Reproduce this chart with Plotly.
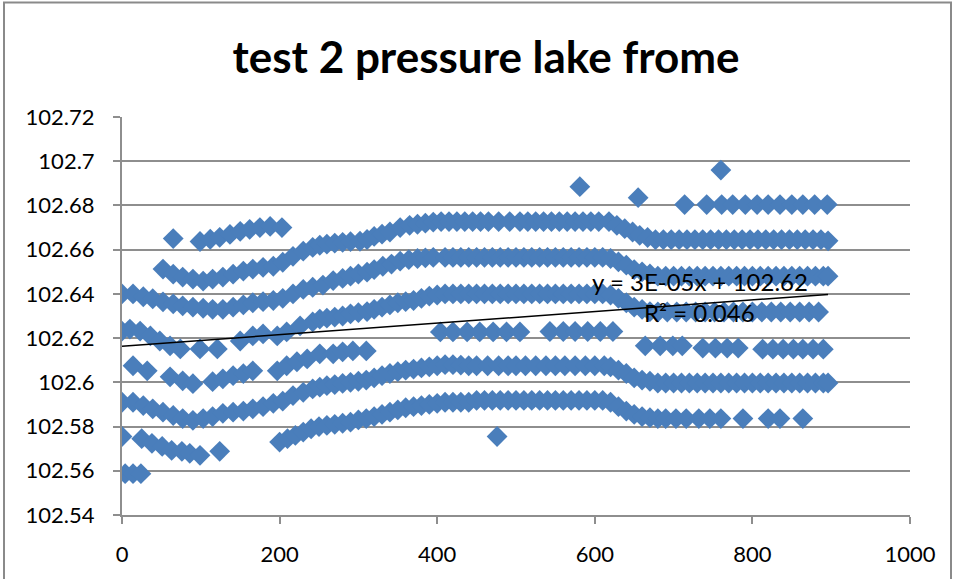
import plotly.graph_objects as go

# ---------------- data ----------------
band8_x = [4, 14, 24]
band8_y = [102.5587, 102.5587, 102.5587]

band7a_x = [0, 25, 38, 51, 63, 76, 86, 99, 124]
band7a_y = [102.5755, 102.5745, 102.5724, 102.5710, 102.5692, 102.5688, 102.5679, 102.5670, 102.5688]

band7_x = [200, 210, 220, 230, 240, 250, 260, 270, 280, 290, 300, 310, 320, 330, 340, 350, 360, 370, 380, 390,
           400, 410, 420, 430, 440, 450, 460, 470, 480, 490, 500, 510, 520, 530, 540, 550, 560, 570, 580, 590,
           600, 610, 620, 630, 640, 650, 660, 670, 680, 690, 703, 716, 732, 746, 760, 788, 820, 835, 864]
band7_y = [102.5730, 102.5745, 102.5760, 102.5775, 102.5790, 102.5800, 102.5805, 102.5810, 102.5815, 102.5820,
           102.5830, 102.5836, 102.5845, 102.5855, 102.5865, 102.5875, 102.5885, 102.5890, 102.5895, 102.5900,
           102.5905, 102.5910, 102.5910, 102.5910, 102.5910, 102.5918, 102.5918, 102.5918, 102.5918, 102.5918,
           102.5918, 102.5918, 102.5918, 102.5918, 102.5918, 102.5918, 102.5918, 102.5918, 102.5918, 102.5918,
           102.5918, 102.5918, 102.5910, 102.5890, 102.5870, 102.5855, 102.5845, 102.5840, 102.5836, 102.5836,
           102.5836, 102.5836, 102.5836, 102.5836, 102.5836, 102.5836, 102.5836, 102.5836, 102.5836]

lone_low_x = [476]
lone_low_y = [102.5755]

band6_x = [0, 14, 27, 39, 52, 65, 77, 90, 103, 115, 128, 141, 154, 166, 179, 192, 204, 217, 230, 242,
           251, 260, 270, 280, 290, 300, 310, 320, 330, 340, 350, 360, 370, 380, 390, 400, 410, 420, 430, 440,
           450, 464, 478, 490, 500, 512, 525, 538, 550, 562, 575, 588, 600, 612, 620, 630, 640, 650, 660, 670,
           680, 690, 700, 710, 720, 730, 740, 750, 760, 770, 780, 790, 800, 810, 820, 830, 840, 850, 860, 870,
           880, 890, 896]
band6_y = [102.5910, 102.5910, 102.5895, 102.5880, 102.5865, 102.5850, 102.5836, 102.5828, 102.5836, 102.5845,
           102.5860, 102.5865, 102.5870, 102.5880, 102.5890, 102.5905, 102.5915, 102.5940, 102.5955, 102.5970,
           102.5978, 102.5985, 102.5990, 102.5995, 102.6000, 102.6005, 102.6010, 102.6020, 102.6030, 102.6040,
           102.6048, 102.6055, 102.6060, 102.6065, 102.6070, 102.6075, 102.6080, 102.6080, 102.6078, 102.6075,
           102.6075, 102.6075, 102.6075, 102.6075, 102.6075, 102.6075, 102.6075, 102.6075, 102.6075, 102.6075,
           102.6075, 102.6075, 102.6075, 102.6075, 102.6070, 102.6055, 102.6040, 102.6020, 102.6010, 102.6005,
           102.5997, 102.5997, 102.5997, 102.5997, 102.5997, 102.5997, 102.5997, 102.5997, 102.5997, 102.5997,
           102.5997, 102.5997, 102.5997, 102.5997, 102.5997, 102.5997, 102.5997, 102.5997, 102.5997, 102.5997,
           102.5997, 102.5997, 102.5997]

band5_x = [14, 32, 61, 77, 90, 115, 128, 141, 154, 166, 197, 209, 222, 235, 251, 268, 280, 293, 310,
           404, 420, 438, 454, 471, 488, 505, 543, 560, 575, 591, 607, 623,
           664, 683, 699, 711, 737, 753, 768, 782, 813, 826, 839, 852, 864, 877, 890]
band5_y = [102.6075, 102.6052, 102.6025, 102.6007, 102.5994, 102.6003, 102.6016, 102.6030, 102.6039, 102.6052,
           102.6052, 102.6075, 102.6093, 102.6106, 102.6129, 102.6129, 102.6138, 102.6142, 102.6142,
           102.6228, 102.6228, 102.6228, 102.6228, 102.6228, 102.6228, 102.6228,
           102.6230, 102.6230, 102.6230, 102.6230, 102.6230, 102.6230,
           102.6165, 102.6165, 102.6165, 102.6165, 102.6155, 102.6155, 102.6155, 102.6155,
           102.6150, 102.6150, 102.6150, 102.6150, 102.6150, 102.6150, 102.6150]

band4_x = [0, 10, 23, 36, 48, 61, 74, 99, 121, 150, 166, 179, 197, 209, 226, 242, 251, 260, 270, 280,
           290, 300, 311, 320, 330, 340, 350, 360, 370, 380, 390, 400, 410, 420, 430, 440, 450, 460, 470, 480,
           490, 500, 510, 520, 530, 540, 550, 560, 570, 580, 590, 600, 610, 620, 630, 640, 650, 660, 670, 680,
           692, 704, 716, 728, 740, 752, 764, 776, 788, 800, 812, 824, 836, 848, 860, 872, 884]
band4_y = [102.6232, 102.6241, 102.6232, 102.6210, 102.6187, 102.6165, 102.6151, 102.6151, 102.6151, 102.6187,
           102.6210, 102.6219, 102.6210, 102.6228, 102.6255, 102.6273, 102.6286, 102.6290, 102.6295, 102.6300,
           102.6310, 102.6315, 102.6320, 102.6330, 102.6340, 102.6350, 102.6360, 102.6365, 102.6370, 102.6380,
           102.6390, 102.6395, 102.6400, 102.6400, 102.6400, 102.6400, 102.6400, 102.6400, 102.6400, 102.6400,
           102.6400, 102.6400, 102.6400, 102.6400, 102.6400, 102.6400, 102.6400, 102.6400, 102.6400, 102.6400,
           102.6400, 102.6400, 102.6400, 102.6395, 102.6380, 102.6360, 102.6340, 102.6330, 102.6320, 102.6318,
           102.6318, 102.6318, 102.6318, 102.6318, 102.6318, 102.6318, 102.6318, 102.6318, 102.6318, 102.6318,
           102.6318, 102.6318, 102.6318, 102.6318, 102.6318, 102.6318, 102.6318]

band3_x = [0, 14, 27, 39, 52, 65, 77, 90, 103, 115, 128, 141, 154, 166, 179, 192, 204, 217, 230, 242,
           255, 268, 280, 290, 300, 311, 320, 331, 342, 353, 364, 375, 385, 395, 410, 420, 430, 440, 450, 460,
           470, 480, 490, 500, 510, 520, 530, 540, 550, 560, 570, 580, 590, 600, 610, 620, 630, 640, 650, 660,
           670, 680, 690, 700, 710, 720, 730, 740, 750, 760, 770, 780, 790, 800, 810, 820, 830, 840, 850, 860,
           870, 880, 890, 896]
band3_y = [102.6400, 102.6400, 102.6387, 102.6378, 102.6364, 102.6355, 102.6346, 102.6340, 102.6335, 102.6330,
           102.6330, 102.6340, 102.6350, 102.6360, 102.6365, 102.6370, 102.6380, 102.6400, 102.6420, 102.6430,
           102.6440, 102.6460, 102.6470, 102.6480, 102.6490, 102.6498, 102.6510, 102.6525, 102.6535, 102.6548,
           102.6555, 102.6560, 102.6563, 102.6565, 102.6565, 102.6565, 102.6565, 102.6565, 102.6565, 102.6565,
           102.6565, 102.6565, 102.6565, 102.6565, 102.6565, 102.6565, 102.6565, 102.6565, 102.6565, 102.6565,
           102.6565, 102.6565, 102.6565, 102.6565, 102.6565, 102.6560, 102.6545, 102.6530, 102.6510, 102.6500,
           102.6490, 102.6480, 102.6480, 102.6480, 102.6480, 102.6480, 102.6480, 102.6480, 102.6480, 102.6480,
           102.6480, 102.6480, 102.6480, 102.6480, 102.6480, 102.6480, 102.6480, 102.6480, 102.6480, 102.6480,
           102.6480, 102.6480, 102.6480, 102.6480]

band2_x = [52, 65, 77, 90, 103, 115, 128, 141, 154, 166, 179, 192, 204, 217, 230, 242, 251, 260, 270, 280,
           290, 302, 311, 320, 330, 340, 353, 365, 375, 385, 395, 405, 415, 425, 435, 445, 455, 465, 478, 492,
           505, 515, 525, 535, 545, 555, 565, 575, 585, 595, 605, 618, 628, 638, 648, 657, 667, 677, 687, 697,
           707, 717, 727, 737, 747, 757, 767, 777, 787, 797, 807, 817, 827, 837, 847, 857, 867, 877, 887, 896]
band2_y = [102.6512, 102.6489, 102.6476, 102.6467, 102.6458, 102.6467, 102.6476, 102.6489, 102.6503, 102.6512,
           102.6520, 102.6525, 102.6543, 102.6570, 102.6593, 102.6610, 102.6620, 102.6625, 102.6630, 102.6633,
           102.6636, 102.6638, 102.6646, 102.6660, 102.6670, 102.6680, 102.6700, 102.6710, 102.6715, 102.6720,
           102.6725, 102.6727, 102.6727, 102.6727, 102.6727, 102.6727, 102.6727, 102.6727, 102.6727, 102.6727,
           102.6727, 102.6727, 102.6727, 102.6727, 102.6727, 102.6727, 102.6727, 102.6727, 102.6727, 102.6727,
           102.6727, 102.6727, 102.6710, 102.6695, 102.6680, 102.6665, 102.6655, 102.6645, 102.6645, 102.6645,
           102.6645, 102.6645, 102.6645, 102.6645, 102.6645, 102.6645, 102.6645, 102.6645, 102.6645, 102.6645,
           102.6645, 102.6645, 102.6645, 102.6645, 102.6645, 102.6645, 102.6645, 102.6645, 102.6645, 102.6640]

band1_x = [65, 99, 112, 124, 137, 150, 162, 175, 188, 203]
band1_y = [102.6650, 102.6637, 102.6647, 102.6656, 102.6669, 102.6683, 102.6692, 102.6700, 102.6705, 102.6700]

top_row_x = [714, 742, 761, 775, 791, 806, 820, 835, 850, 864, 879, 895]
top_row_y = [102.6804, 102.6804, 102.6804, 102.6804, 102.6804, 102.6804, 102.6804, 102.6804, 102.6804,
             102.6804, 102.6804, 102.6804]

outlier_x = [581, 655, 760]
outlier_y = [102.6885, 102.6835, 102.6960]

# linear trendline
trend_slope = 2.62e-5
trend_intercept = 102.6163
trend_x_range = [0, 896]

y_tickvals = [102.54, 102.56, 102.58, 102.60, 102.62, 102.64, 102.66, 102.68, 102.70, 102.72]
y_ticktext = ["102.54", "102.56", "102.58", "102.6", "102.62", "102.64", "102.66", "102.68", "102.7", "102.72"]
x_tickvals = [0, 200, 400, 600, 800, 1000]

title_text = "test 2 pressure lake frome"
eq_text = "y = 3E-05x + 102.62"
r2_text = "R² = 0.046"

# ---------------- figure ----------------
all_x = (band8_x + band7a_x + band7_x + lone_low_x + band6_x + band5_x + band4_x + band3_x
         + band2_x + band1_x + top_row_x + outlier_x)
all_y = (band8_y + band7a_y + band7_y + lone_low_y + band6_y + band5_y + band4_y + band3_y
         + band2_y + band1_y + top_row_y + outlier_y)

FONT = "Lato, 'Open Sans', sans-serif"
GRID = "#8e8e8e"

fig = go.Figure()
fig.add_trace(go.Scatter(
    x=all_x, y=all_y, mode="markers",
    marker=dict(symbol="diamond", size=16, color="#4a7ebb", line=dict(width=0)),
    showlegend=False, hoverinfo="x+y"))

trend_y = [trend_intercept + trend_slope * v for v in trend_x_range]
fig.add_trace(go.Scatter(
    x=trend_x_range, y=trend_y, mode="lines",
    line=dict(color="black", width=1.5), showlegend=False, hoverinfo="skip"))

fig.update_layout(
    width=955, height=579,
    margin=dict(l=122, r=45, t=117, b=62),
    paper_bgcolor="white", plot_bgcolor="white",
    font=dict(family=FONT, color="black", size=22),
    title=dict(text="<b>%s</b>" % title_text, x=0.509, xref="container", xanchor="center",
               y=1 - 58 / 579, yref="container", yanchor="middle",
               font=dict(family=FONT, size=44, color="black")),
    xaxis=dict(range=[0, 1000], tickvals=x_tickvals, showgrid=False, zeroline=False,
               showline=True, linecolor=GRID, linewidth=2, ticks="outside", ticklen=7,
               tickcolor=GRID, tickwidth=2, ticklabelstandoff=12,
               tickfont=dict(family=FONT, size=22, color="black")),
    yaxis=dict(range=[102.54, 102.72], tickvals=y_tickvals, ticktext=y_ticktext,
               showgrid=True, gridcolor=GRID, gridwidth=2, zeroline=False,
               showline=True, linecolor=GRID, linewidth=2, ticks="outside", ticklen=7,
               tickcolor=GRID, tickwidth=2, ticklabelstandoff=14,
               tickfont=dict(family=FONT, size=22, color="black")),
    annotations=[
        dict(text=eq_text, x=733, y=102.6457, xref="x", yref="y", showarrow=False,
             xanchor="center", yanchor="middle", font=dict(family=FONT, size=24, color="black")),
        dict(text=r2_text, x=733, y=102.6318, xref="x", yref="y", showarrow=False,
             xanchor="center", yanchor="middle", font=dict(family=FONT, size=24, color="black")),
    ],
    shapes=[
        dict(type="rect", xref="paper", yref="paper",
             x0=(4 - 122) / 788, x1=(951 - 122) / 788, y0=(517 - 600) / 400, y1=(517 - 2) / 400,
             line=dict(color="#8a8a8a", width=2), fillcolor="rgba(0,0,0,0)", layer="below"),
    ],
)

fig.write_html("out.html", config={"displayModeBar": False},
               post_script="document.body.style.margin='0';document.body.style.overflow='hidden';")
